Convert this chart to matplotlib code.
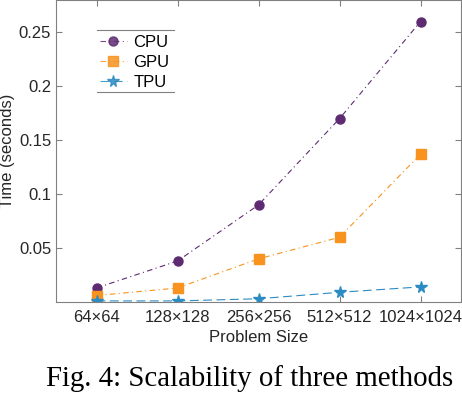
import numpy as np
import matplotlib
matplotlib.use("Agg")
import matplotlib.pyplot as plt
from matplotlib.lines import Line2D

sizes = ["64×64", "128×128", "256×256", "512×512", "1024×1024"]
cpu = [0.013, 0.038, 0.090, 0.170, 0.260]
gpu = [0.006, 0.013, 0.040, 0.060, 0.137]
tpu = [0.001, 0.001, 0.003, 0.009, 0.014]
yticks = [0.05, 0.1, 0.15, 0.2, 0.25]

plt.rcParams['font.family'] = ['Liberation Sans', 'DejaVu Sans']

fig = plt.figure(figsize=(4.62, 3.94), dpi=100)
ax = fig.add_axes([56 / 462, 1 - 302 / 394, 405 / 462, 302 / 394])

x = np.arange(1, len(sizes) + 1)
ax.plot(x, cpu, color='#5E2B72', ls=(0, (5, 3, 1, 3)), lw=0.8, marker='o', ms=6.5, label='CPU')
ax.plot(x, gpu, color='#F7931E', ls=(0, (5, 3, 1, 3)), lw=0.8, marker='s', ms=6.5, label='GPU')
ax.plot(x, tpu, color='#2B8CC4', ls=(0, (8, 4)), lw=0.8, marker='*', ms=8.5, label='TPU')

ax.set_xlim(0.5, 5.5)
ax.set_ylim(0, 0.28)
ax.set_xticks(x)
ax.set_xticklabels(sizes)
ax.set_yticks(yticks)
ax.set_yticklabels([f"{v:g}" for v in yticks])
ax.tick_params(direction='in', length=4, width=0.8, color='#808080', labelsize=12,
               labelcolor='#262626', top=True, right=True)
ax.tick_params(axis='x', pad=6)
ax.tick_params(axis='y', pad=3.5)
for s in ax.spines.values():
    s.set_color('#808080')
    s.set_linewidth(0.8)

ax.set_xlabel('Problem Size', fontsize=12, color='#262626', labelpad=3)
ax.set_ylabel('Time (seconds)', fontsize=12, color='#262626', labelpad=3)

leg = ax.legend(loc='upper left', bbox_to_anchor=(44 / 405, 1 - 35 / 302), frameon=False,
                fontsize=12, handlelength=1.6, handletextpad=0.4, labelspacing=0.3,
                borderaxespad=0, borderpad=0)
for h in leg.legend_handles:
    h.set_alpha(0.85)

fig.text(250 / 462, 1 - 386 / 394, 'Fig. 4: Scalability of three methods', ha='center', va='baseline',
         fontsize=20.8, family='Liberation Serif')

# legend with only top and bottom rules
fig.canvas.draw()
bb = leg.get_window_extent()
inv = fig.transFigure.inverted()
(x0, y0), (x1, y1) = inv.transform([(bb.x0 - 3, bb.y0 - 2), (bb.x1 + 5, bb.y1 + 5)])
for yy in (y0, y1):
    fig.add_artist(Line2D([x0, x1], [yy, yy], color='#808080', lw=0.8))

fig.savefig('out.png', dpi=100)
